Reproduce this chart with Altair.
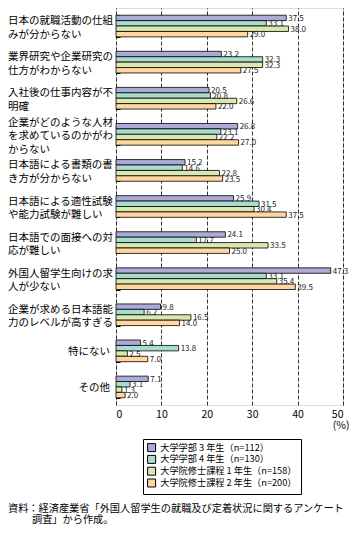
import altair as alt
import pandas as pd

categories = [
    "日本の就職活動の仕組\nみが分からない",
    "業界研究や企業研究の\n仕方がわからない",
    "入社後の仕事内容が不\n明確",
    "企業がどのような人材\nを求めているのかがわ\nからない",
    "日本語による書類の書\nき方が分からない",
    "日本語による適性試験\nや能力試験が難しい",
    "日本語での面接への対\n応が難しい",
    "外国人留学生向けの求\n人が少ない",
    "企業が求める日本語能\n力のレベルが高すぎる",
    "特にない",
    "その他",
]
series = [
    "大学学部 3 年生（n=112）",
    "大学学部 4 年生（n=130）",
    "大学院修士課程 1 年生（n=158）",
    "大学院修士課程 2 年生（n=200）",
]
vals_b3 = [37.5, 23.2, 20.5, 26.8, 15.2, 25.9, 24.1, 47.3, 9.8, 5.4, 7.1]
vals_b4 = [33.1, 32.3, 20.8, 23.1, 14.6, 31.5, 17.7, 33.1, 6.2, 13.8, 3.1]
vals_m1 = [38.0, 32.3, 26.6, 22.2, 22.8, 30.4, 33.5, 35.4, 16.5, 2.5, 1.3]
vals_m2 = [29.0, 27.5, 22.0, 27.0, 23.5, 37.5, 25.0, 39.5, 14.0, 7.0, 2.0]
colors = ["#ABABD8", "#A8DCCF", "#D8E8AE", "#FFD6A0"]
x_ticks = [0, 10, 20, 30, 40, 50]
source_line1 = "資料：経済産業省「外国人留学生の就職及び定着状況に関するアンケート"
source_line2 = "調査」から作成。"

rows = []
for s, vals in zip(series, [vals_b3, vals_b4, vals_m1, vals_m2]):
    for c, v in zip(categories, vals):
        rows.append({"cat": c, "series": s, "value": v})
df = pd.DataFrame(rows)
cat_df = pd.DataFrame({"cat": categories})

FONT = "Noto Sans CJK JP"
W, H = 227, 397
LH = 13.5
FS = 10.5

yscale = alt.Scale(domain=categories, paddingInner=0.4, paddingOuter=0.2)

base = alt.Chart(df).encode(
    y=alt.Y("cat:N", sort=categories, scale=yscale,
            axis=alt.Axis(orient="right", offset=-W, labels=False, domain=False,
                          tickBand="extent", tickSize=4, tickColor="black",
                          tickWidth=1, grid=False, title=None)),
    yOffset=alt.YOffset("series:N", sort=series,
                        scale=alt.Scale(paddingInner=0, paddingOuter=0)),
)

bars = base.mark_bar(stroke="black", strokeWidth=0.8).encode(
    x=alt.X("value:Q", scale=alt.Scale(domain=[0, 50], nice=False),
            axis=alt.Axis(values=x_ticks, grid=True, gridColor="black",
                          gridDash=[4, 2], gridWidth=0.8, ticks=False,
                          domain=False, labelFont=FONT, labelFontSize=10.5,
                          labelColor="black", labelPadding=4,
                          title="(%)", titleFont=FONT, titleFontSize=10.5,
                          titleFontWeight="normal", titleColor="black",
                          titleAnchor="end", titleAlign="right",
                          titleBaseline="middle",
                          titleX=W + 6, titleY=20)),
    color=alt.Color("series:N", sort=series,
                    scale=alt.Scale(domain=series, range=colors),
                    legend=alt.Legend(title=None, orient="none",
                                      legendX=27, legendY=431,
                                      symbolType="square", symbolSize=64,
                                      symbolStrokeColor="black",
                                      symbolStrokeWidth=1, symbolOffset=0,
                                      labelOffset=4,
                                      labelFont=FONT, labelFontSize=9.2,
                                      labelColor="black", rowPadding=-1.2,
                                      strokeColor="black", padding=4,
                                      fillColor="white")),
)

labels = base.mark_text(align="left", baseline="middle", dx=2, dy=1,
                        font=FONT, fontSize=8, color="#222").encode(
    x=alt.X("value:Q"),
    text=alt.Text("value:Q", format=".1f"),
)


def cat_layer(n_lines):
    return alt.Chart(cat_df).transform_filter(
        f"length(split(datum.cat, '\\n')) == {n_lines}"
    ).mark_text(align="left", baseline="line-top", lineBreak="\n",
                lineHeight=LH, font=FONT, fontSize=FS, color="black",
                dy=-n_lines * LH / 2 + 1.5).encode(
        y=alt.Y("cat:N", sort=categories, scale=yscale),
        x=alt.value(-108),
        text="cat:N",
    )


cat2 = cat_layer(2)
cat3 = cat_layer(3)

cat_single = alt.Chart(cat_df).transform_filter(
    "length(split(datum.cat, '\\n')) == 1"
).mark_text(align="right", baseline="middle",
            font=FONT, fontSize=FS, color="black", dy=1).encode(
    y=alt.Y("cat:N", sort=categories, scale=yscale),
    x=alt.value(-6),
    text="cat:N",
)

src1 = alt.Chart(pd.DataFrame({"t": [source_line1]})).mark_text(
    align="left", baseline="middle", font=FONT, fontSize=10.2, color="black"
).encode(x=alt.value(-108), y=alt.value(H + 104), text="t:N")

src2 = alt.Chart(pd.DataFrame({"t": [source_line2]})).mark_text(
    align="left", baseline="middle", font=FONT, fontSize=10.2, color="black"
).encode(x=alt.value(-84), y=alt.value(H + 115), text="t:N")

chart = alt.layer(bars, labels, cat2, cat3, cat_single, src1, src2).properties(
    width=W, height=H,
    autosize=alt.AutoSizeParams(type="none"),
    padding={"left": 108, "top": 0, "right": 6, "bottom": 120},
).configure_view(stroke="black", strokeWidth=1).configure(font=FONT)

chart.save("out.html", embed_options={"renderer": "svg", "actions": False})
